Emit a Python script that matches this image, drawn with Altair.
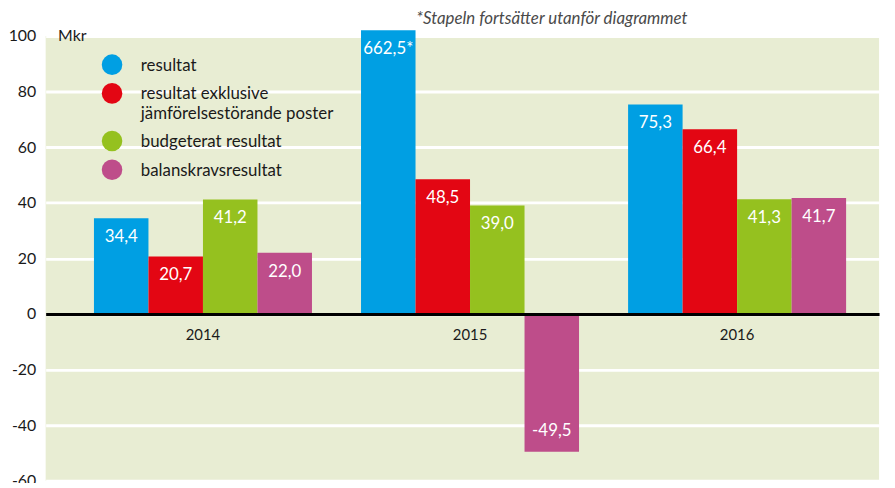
import altair as alt
import pandas as pd

years = ["2014", "2015", "2016"]
series = [
    "resultat",
    "resultat exklusive jämförelsestörande poster",
    "budgeterat resultat",
    "balanskravsresultat",
]
resultat = [34.4, 662.5, 75.3]
resultat_exkl = [20.7, 48.5, 66.4]
budgeterat = [41.2, 39.0, 41.3]
balanskrav = [22.0, -49.5, 41.7]
colors = ["#009FE3", "#E30613", "#95C11F", "#BE4D8A"]
y_ticks = [-60, -40, -20, 0, 20, 40, 60, 80, 100]
footnote = "*Stapeln fortsätter utanför diagrammet"

rows = []
for s, vals in zip(series, [resultat, resultat_exkl, budgeterat, balanskrav]):
    for yr, v in zip(years, vals):
        rows.append({"year": yr, "series": s, "value": v})
df = pd.DataFrame(rows)
legend_df = pd.DataFrame({"series": series, "i": list(range(len(series)))})

W, H = 841, 449
Y_MIN, Y_MAX = -60, 100
CAP = 102
zero_offset = -(H - (Y_MAX - 0) / (Y_MAX - Y_MIN) * H)
FONT = "Lato"
BG = "#E8EDD3"
TXT = "#1a1a1a"

color_scale = alt.Scale(domain=series, range=colors)

base = alt.Chart(df).transform_calculate(
    shown=f"min(datum.value, {CAP})",
    label=f"replace(replace(format(datum.value, '.1f'), '.', ','), '\u2212', '-') + (datum.value > {CAP} ? '*' : '')",
)

x_enc = alt.X(
    "year:N",
    sort=years,
    scale=alt.Scale(paddingInner=0, paddingOuter=0.0603, align=0.738),
    axis=alt.Axis(
        title=None,
        orient="bottom",
        offset=zero_offset,
        domainColor="black",
        domainWidth=3,
        ticks=False,
        labelAngle=0,
        labelFontSize=15,
        labelFont=FONT,
        labelColor=TXT,
        labelPadding=14,
        zindex=1,
    ),
)
xoff_enc = alt.XOffset(
    "series:N", sort=series, scale=alt.Scale(paddingInner=0, paddingOuter=0.45)
)
y_enc = alt.Y(
    "shown:Q",
    scale=alt.Scale(domain=[Y_MIN, Y_MAX], nice=False, zero=False),
    axis=alt.Axis(
        values=y_ticks,
        labelExpr="'' + datum.value",
        domain=False,
        ticks=False,
        grid=True,
        gridColor="white",
        gridWidth=3,
        labelFontSize=16,
        labelFont=FONT,
        labelColor=TXT,
        labelPadding=10,
        title="Mkr",
        titleAngle=0,
        titleX=12,
        titleY=0,
        titleAlign="left",
        titleBaseline="middle",
        titleFontSize=16,
        titleFont=FONT,
        titleFontWeight="normal",
        titleColor=TXT,
    ),
)

bars = base.mark_bar(clip=False).encode(
    x=x_enc,
    xOffset=xoff_enc,
    y=y_enc,
    color=alt.Color("series:N", sort=series, scale=color_scale, legend=None),
)

text_pos = base.transform_filter("datum.value >= 0").mark_text(
    baseline="top", dy=11, color="white", fontSize=17, font=FONT
).encode(x=x_enc, xOffset=xoff_enc, y=y_enc, text="label:N")

text_neg = base.transform_filter("datum.value < 0").mark_text(
    baseline="bottom", dy=-12, color="white", fontSize=17, font=FONT
).encode(x=x_enc, xOffset=xoff_enc, y=y_enc, text="label:N")

# manual legend (layout rows: single-line rows 29px, two-line row adds 19px)
leg_base = alt.Chart(legend_df).transform_calculate(
    ly="29 + datum.i * 29 + (datum.i >= 2 ? 19 : 0)",
    txt="replace(datum.series, 'exklusive ', 'exklusive\\n')",
)
leg_dots = leg_base.mark_point(shape="circle", filled=True, size=430, opacity=1).encode(
    x=alt.value(67),
    y=alt.Y("ly:Q", scale=None, axis=None),
    color=alt.Color("series:N", sort=series, scale=color_scale, legend=None),
)
leg_text = leg_base.mark_text(
    align="left", baseline="alphabetic", dy=6, fontSize=17, font=FONT,
    color=TXT, lineBreak="\n", lineHeight=20,
).encode(
    x=alt.value(96),
    y=alt.Y("ly:Q", scale=None, axis=None),
    text="txt:N",
)

note = alt.Chart(pd.DataFrame({"t": [footnote]})).mark_text(
    align="left", baseline="middle", fontSize=17, fontStyle="italic",
    font=FONT, color="#4a4a4a"
).encode(x=alt.value(374), y=alt.value(-17), text="t:N")

chart = (
    alt.layer(bars, text_pos, text_neg, leg_dots, leg_text, note)
    .properties(
        width=W,
        height=H,
        autosize=alt.AutoSizeParams(type="none"),
        padding={"left": 38, "top": 26, "right": 8, "bottom": 0},
    )
    .configure_view(fill=BG, strokeWidth=0)
)

chart.save("out.html", embed_options={"renderer": "svg", "actions": False})
